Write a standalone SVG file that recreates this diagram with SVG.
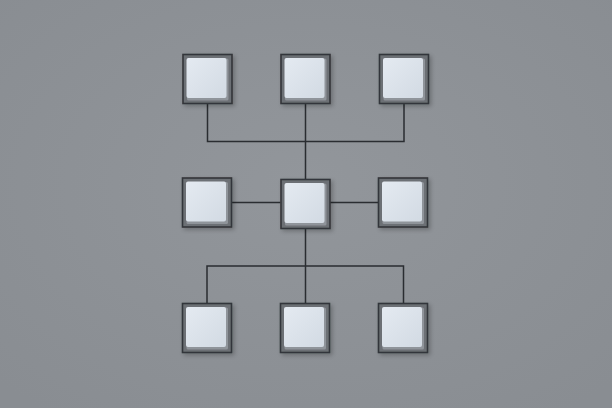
<svg xmlns="http://www.w3.org/2000/svg" width="612" height="408" viewBox="0 0 612 408">
  <defs>
    <radialGradient id="bg" cx="50%" cy="45%" r="70%">
      <stop offset="0" stop-color="#92969b"/>
      <stop offset="1" stop-color="#898d92"/>
    </radialGradient>
    <linearGradient id="face" x1="0" y1="0" x2="1" y2="1">
      <stop offset="0" stop-color="#e4eaf1"/>
      <stop offset="1" stop-color="#d2dae3"/>
    </linearGradient>
    <filter id="sh" x="-20%" y="-20%" width="150%" height="150%">
      <feGaussianBlur in="SourceAlpha" stdDeviation="2"/>
      <feOffset dx="1.5" dy="2" result="b"/>
      <feComponentTransfer><feFuncA type="linear" slope="0.25"/></feComponentTransfer>
      <feMerge><feMergeNode/><feMergeNode in="SourceGraphic"/></feMerge>
    </filter>
    <g id="node">
      <rect x="0" y="0" width="49" height="49" fill="#6c6f74" stroke="#33363a" stroke-width="1.6"/>
      <rect x="4" y="4" width="41.5" height="42" rx="1.5" fill="#8f949a"/>
      <rect x="3.5" y="3.5" width="40" height="40" rx="2" fill="url(#face)"/>
    </g>
  </defs>
  <style>
    .wire { fill: none; stroke: #2a2d31; stroke-width: 1.5; }
  </style>
  <rect width="612" height="408" fill="url(#bg)"/>
  <g id="connectors">
    <path class="wire" d="M207.5 104 V141.5 H404 V103 M305.5 103 V179"/>
    <path class="wire" d="M231 202.5 H280.5 M329.5 202.5 H378.5"/>
    <path class="wire" d="M305.5 228 V266 M207 303 V266 H403.5 V303 M305.5 266 V303"/>
  </g>
  <g filter="url(#sh)">
    <g id="node-top-left"><use href="#node" x="183" y="54.5"/></g>
    <g id="node-top-center"><use href="#node" x="281" y="54.5"/></g>
    <g id="node-top-right"><use href="#node" x="379.5" y="54.5"/></g>
    <g id="node-mid-left"><use href="#node" x="182.5" y="178"/></g>
    <g id="node-mid-center"><use href="#node" x="281" y="179.5"/></g>
    <g id="node-mid-right"><use href="#node" x="378.5" y="178"/></g>
    <g id="node-bot-left"><use href="#node" x="182.5" y="303.5"/></g>
    <g id="node-bot-center"><use href="#node" x="280.5" y="303.5"/></g>
    <g id="node-bot-right"><use href="#node" x="378.5" y="303.5"/></g>
  </g>
</svg>
